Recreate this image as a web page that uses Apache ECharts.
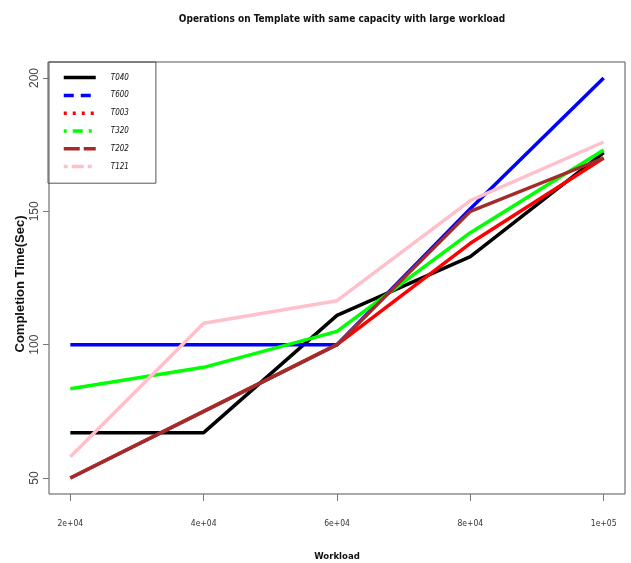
<!DOCTYPE html>
<html>
<head>
<meta charset="utf-8">
<script src="https://cdn.jsdelivr.net/npm/echarts@6/dist/echarts.min.js"></script>
<style>html,body{margin:0;padding:0;background:#fff;}#c{width:631px;height:563px;}</style>
</head>
<body>
<div id="c"></div>
<script>
var workload = [20000, 40000, 60000, 80000, 100000];
var xTickLabels = ['2e+04', '4e+04', '6e+04', '8e+04', '1e+05'];
var yTicks = [50, 100, 150, 200];
var seriesNames = ['T040', 'T600', 'T003', 'T320', 'T202', 'T121'];
var T040 = [67, 67, 111, 133, 172];
var T600 = [100, 100, 100, 151, 200];
var T003 = [50, 75, 100, 138, 170];
var T320 = [83.5, 91.5, 105, 142, 173];
var T202 = [50, 75, 100, 150, 170];
var T121 = [58, 108, 116.5, 154, 176];
var values = [T040, T600, T003, T320, T202, T121];
var colors = ['#000000', '#0000ff', '#ff0000', '#00ff00', '#a52a2a', '#ffc0cb'];
var legendDash = ['solid', [10, 7], [3, 6], [3, 6, 10, 6], [16, 4], [4, 4, 12, 4]];

var narrow = "'Liberation Sans Narrow', 'DejaVu Sans Condensed', 'Liberation Sans', sans-serif";
var regular = "'Liberation Sans', Arial, sans-serif";

var chart = echarts.init(document.getElementById('c'));
chart.setOption({
  animation: false,
  backgroundColor: '#ffffff',
  title: {
    text: 'Operations on Template with same capacity with large workload',
    left: 337, top: 9, textAlign: 'center',
    textStyle: {fontFamily: narrow, fontWeight: 'bold', fontSize: 10, color: '#111'}
  },
  legend: {
    orient: 'vertical', left: 48, top: 62,
    padding: [10, 27, 11, 14],
    itemWidth: 32, itemHeight: 14, itemGap: 6.6,
    borderColor: '#555', borderWidth: 1,
    data: seriesNames.map(function (n, i) {
      return {name: n, itemStyle: {opacity: 0}, lineStyle: {type: legendDash[i], width: 3.5, color: colors[i]}};
    }),
    textStyle: {fontFamily: narrow, fontStyle: 'italic', fontSize: 8, color: '#111', padding: [0, 0, 0, 10]}
  },
  grid: {left: 49, right: 6, top: 62, bottom: 69, show: true, borderColor: '#555', borderWidth: 1, containLabel: false, outerBoundsMode: 'none'},
  xAxis: {
    type: 'value', min: 16800, max: 103200,
    name: 'Workload', nameLocation: 'middle', nameGap: 58, nameMoveOverlap: false,
    nameTextStyle: {fontFamily: narrow, fontWeight: 'bold', fontSize: 9.5, color: '#111'},
    axisLine: {show: false},
    axisTick: {show: true, inside: false, length: 7, customValues: workload, lineStyle: {color: '#777'}},
    axisLabel: {
      customValues: workload, margin: 25,
      fontFamily: narrow, fontSize: 8.5, color: '#333',
      formatter: function (v) { var i = workload.indexOf(v); return i >= 0 ? xTickLabels[i] : ''; }
    },
    splitLine: {show: false}
  },
  yAxis: {
    type: 'value', min: 44, max: 206,
    name: 'Completion Time(Sec)', nameLocation: 'middle', nameGap: 22, nameRotate: 90, nameMoveOverlap: false,
    nameTextStyle: {fontFamily: regular, fontWeight: 'bold', fontSize: 13, color: '#111', padding: [0, 12, 0, 0]},
    axisLine: {show: false},
    axisTick: {show: true, inside: false, length: 6, customValues: yTicks, lineStyle: {color: '#777'}},
    axisLabel: {customValues: yTicks, rotate: 90, margin: 8, fontFamily: regular, fontSize: 12, color: '#444'},
    splitLine: {show: false}
  },
  series: seriesNames.map(function (n, i) {
    return {
      name: n, type: 'line', symbol: 'none',
      data: workload.map(function (x, j) { return [x, values[i][j]]; }),
      lineStyle: {color: colors[i], width: 3.5, type: 'solid'},
      itemStyle: {color: colors[i]},
      z: 2 + i
    };
  })
});
</script>
</body>
</html>
